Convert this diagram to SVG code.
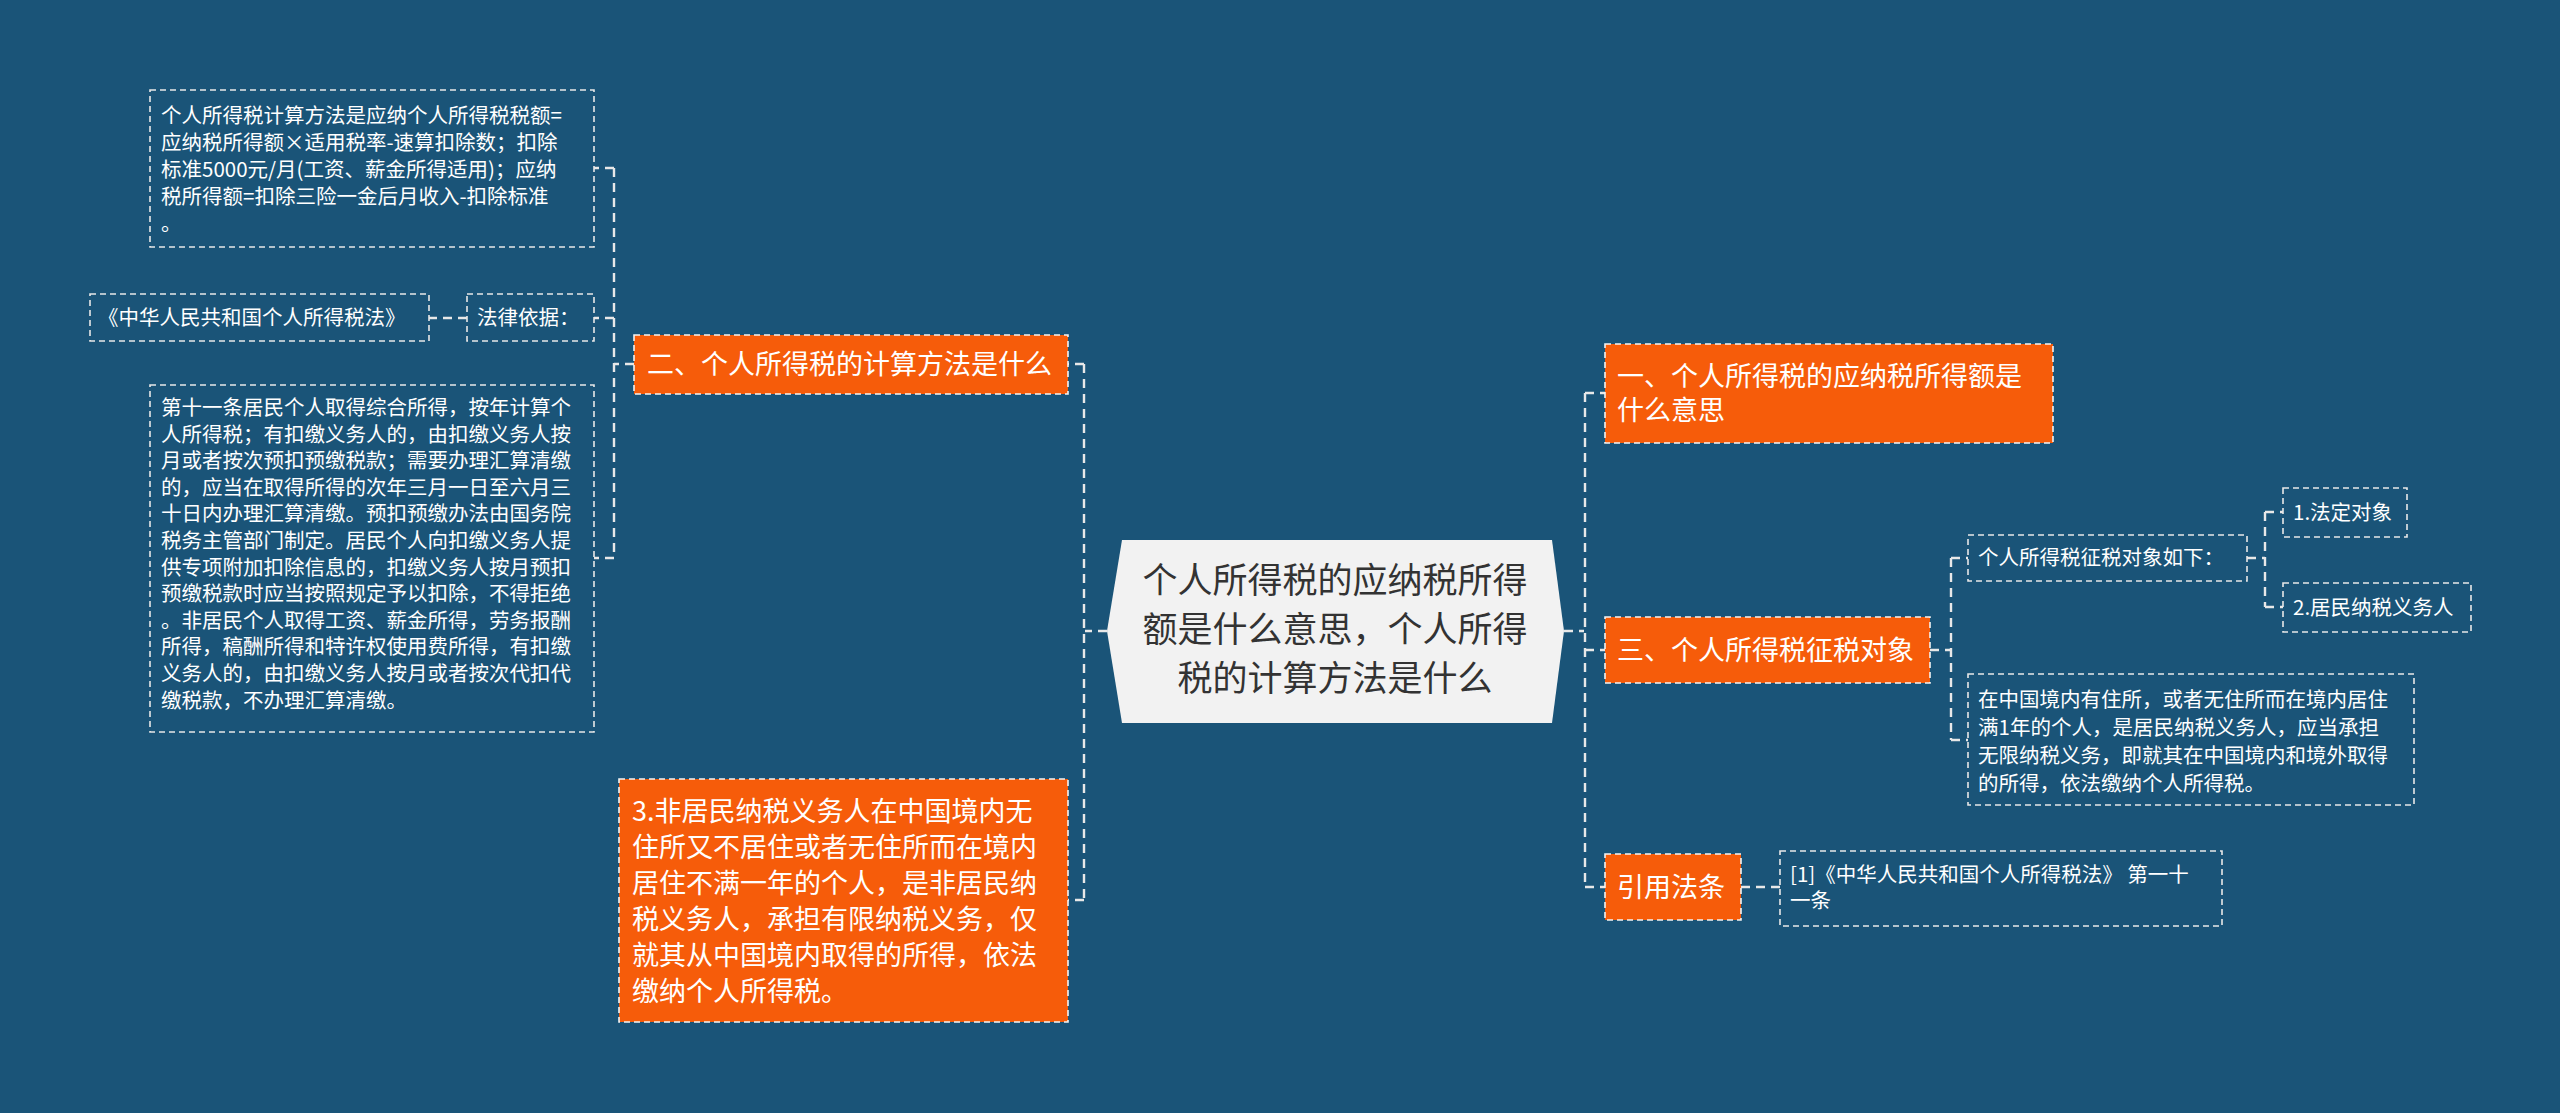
<svg xmlns="http://www.w3.org/2000/svg" width="2560" height="1113" viewBox="0 0 2560 1113">
<style>
.bg{fill:#1a5478}
.o{fill:#f65c0a;stroke:#f3f3f3;stroke-width:1.6;stroke-dasharray:6 4}
.b{fill:none;stroke:#e8e8e8;stroke-width:1.6;stroke-dasharray:6 4}
.c{fill:none;stroke:#e8e8e8;stroke-width:2.4;stroke-dasharray:9 6}
text{font-family:"Microsoft YaHei","Noto Sans CJK SC",sans-serif;fill:#fff}
.s{font-size:20.5px}
.m{font-size:27px}
.t{font-size:35px;fill:#333}
</style>
<rect class="bg" width="2560" height="1113"/>
<g id="connectors">
<path class="c" d="M1564 631H1584M1585 393V887M1585 393H1605M1585 650H1605M1585 887H1605"/>
<path class="c" d="M1107 631H1085M1084 364V900M1084 364H1068M1084 900H1068"/>
<path class="c" d="M634 364H614M614 168V558M614 168H594M614 318H594M614 558H594M467 318H429"/>
<path class="c" d="M1930 650H1951M1951 558V740M1951 558H1968M1951 740H1968M2247 558H2265M2265 512V607M2265 512H2283M2265 607H2283M1741 887H1780"/>
</g>
<g id="center"><path d="M1122 540H1552L1564 631L1552 723H1122L1107 631Z" fill="#f2f2f2"/>
<text class="t" text-anchor="middle"><tspan x="1335" y="593">个人所得税的应纳税所得</tspan><tspan x="1335" y="642">额是什么意思，个人所得</tspan><tspan x="1335" y="691">税的计算方法是什么</tspan></text></g>
<g id="n2"><rect class="o" x="634" y="335" width="434" height="59"/><text class="m" x="647" y="374">二、个人所得税的计算方法是什么</text></g>
<g id="n3"><rect class="o" x="619" y="779" width="449" height="243"/><text class="m"><tspan x="632" y="821">3.非居民纳税义务人在中国境内无</tspan><tspan x="632" y="857">住所又不居住或者无住所而在境内</tspan><tspan x="632" y="893">居住不满一年的个人，是非居民纳</tspan><tspan x="632" y="929">税义务人，承担有限纳税义务，仅</tspan><tspan x="632" y="965">就其从中国境内取得的所得，依法</tspan><tspan x="632" y="1001">缴纳个人所得税。</tspan></text></g>
<g id="top"><rect class="b" x="150" y="90" width="444" height="157"/><text class="s"><tspan x="161" y="123">个人所得税计算方法是应纳个人所得税税额=</tspan><tspan x="161" y="150">应纳税所得额×适用税率-速算扣除数；扣除</tspan><tspan x="161" y="177">标准5000元/月(工资、薪金所得适用)；应纳</tspan><tspan x="161" y="204">税所得额=扣除三险一金后月收入-扣除标准</tspan><tspan x="161" y="231">。</tspan></text></g>
<g id="law"><rect class="b" x="467" y="294" width="127" height="47"/><text class="s" x="477" y="325">法律依据：</text></g>
<g id="lawname"><rect class="b" x="90" y="294" width="339" height="47"/><text class="s" x="98" y="325">《中华人民共和国个人所得税法》</text></g>
<g id="long"><rect class="b" x="150" y="385" width="444" height="347"/><text class="s"><tspan x="161" y="415">第十一条居民个人取得综合所得，按年计算个</tspan><tspan x="161" y="442">人所得税；有扣缴义务人的，由扣缴义务人按</tspan><tspan x="161" y="468">月或者按次预扣预缴税款；需要办理汇算清缴</tspan><tspan x="161" y="495">的，应当在取得所得的次年三月一日至六月三</tspan><tspan x="161" y="521">十日内办理汇算清缴。预扣预缴办法由国务院</tspan><tspan x="161" y="548">税务主管部门制定。居民个人向扣缴义务人提</tspan><tspan x="161" y="575">供专项附加扣除信息的，扣缴义务人按月预扣</tspan><tspan x="161" y="601">预缴税款时应当按照规定予以扣除，不得拒绝</tspan><tspan x="161" y="628">。非居民个人取得工资、薪金所得，劳务报酬</tspan><tspan x="161" y="654">所得，稿酬所得和特许权使用费所得，有扣缴</tspan><tspan x="161" y="681">义务人的，由扣缴义务人按月或者按次代扣代</tspan><tspan x="161" y="708">缴税款，不办理汇算清缴。</tspan></text></g>
<g id="n1"><rect class="o" x="1605" y="344" width="448" height="99"/><text class="m"><tspan x="1617" y="386">一、个人所得税的应纳税所得额是</tspan><tspan x="1617" y="420">什么意思</tspan></text></g>
<g id="n3r"><rect class="o" x="1605" y="617" width="325" height="66"/><text class="m" x="1617" y="660">三、个人所得税征税对象</text></g>
<g id="ref"><rect class="o" x="1605" y="854" width="136" height="66"/><text class="m" x="1617" y="897">引用法条</text></g>
<g id="cite"><rect class="b" x="1780" y="851" width="442" height="75"/><text class="s"><tspan x="1790" y="882">[1]《中华人民共和国个人所得税法》 第一十</tspan><tspan x="1790" y="908">一条</tspan></text></g>
<g id="obj"><rect class="b" x="1968" y="535" width="279" height="46"/><text class="s" x="1978" y="565">个人所得税征税对象如下：</text></g>
<g id="o1"><rect class="b" x="2283" y="488" width="124" height="49"/><text class="s" x="2293" y="520">1.法定对象</text></g>
<g id="o2"><rect class="b" x="2283" y="583" width="188" height="49"/><text class="s" x="2293" y="615">2.居民纳税义务人</text></g>
<g id="res"><rect class="b" x="1968" y="674" width="446" height="131"/><text class="s"><tspan x="1978" y="707">在中国境内有住所，或者无住所而在境内居住</tspan><tspan x="1978" y="735">满1年的个人，是居民纳税义务人，应当承担</tspan><tspan x="1978" y="763">无限纳税义务，即就其在中国境内和境外取得</tspan><tspan x="1978" y="791">的所得，依法缴纳个人所得税。</tspan></text></g>
</svg>
